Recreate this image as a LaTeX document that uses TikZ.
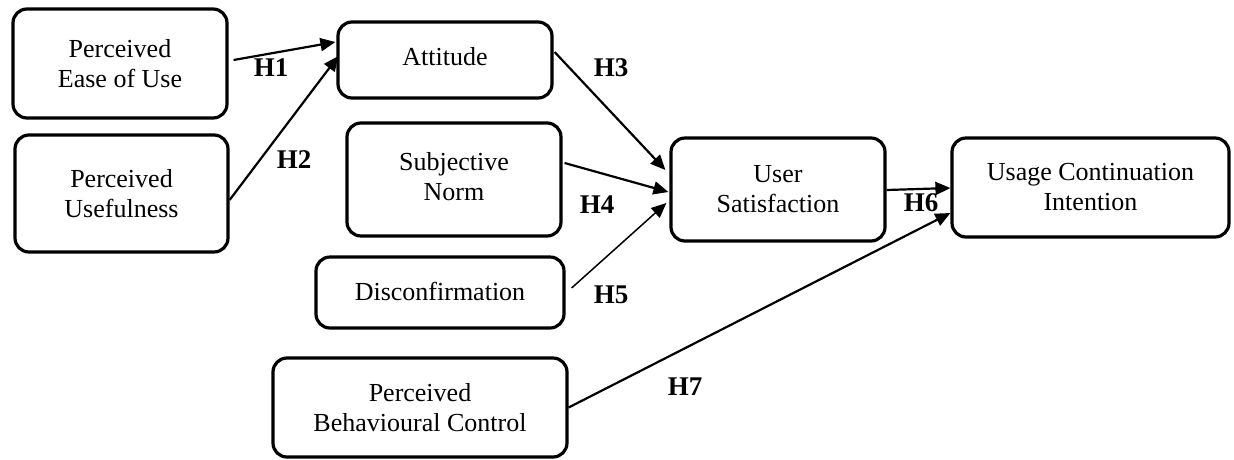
\documentclass[tikz,border=0pt]{standalone}
\usepackage{fontspec}
\setmainfont{Liberation Serif}
\usetikzlibrary{arrows.meta,calc}
\begin{document}
\begin{tikzpicture}[x=1pt,y=-1pt,
  box/.style={draw,line width=3.2pt,rounded corners=14pt,align=center,inner sep=0pt,
    font=\fontsize{26}{30}\selectfont},
  hlab/.style={font=\fontsize{27}{30}\selectfont\bfseries,inner sep=0pt},
  conn/.style={line width=2.2pt,-{Triangle[length=15pt,width=13pt]}},
  thinconn/.style={line width=1.5pt,-{Triangle[length=15pt,width=13pt]}}]
\useasboundingbox (0,0) rectangle (1234,459);
\node[box,minimum width=214pt,minimum height=109pt] (peou) at (120,63.5) {Perceived\\Ease of Use};
\node[box,minimum width=213pt,minimum height=117pt] (pu) at (121.5,193.5) {Perceived\\Usefulness};
\node[box,minimum width=214pt,minimum height=76pt] (att) at (445,60) {\raisebox{7pt}{Attitude}};
\node[box,minimum width=214pt,minimum height=113pt] (sn) at (454,179.5) {\raisebox{8pt}{\begin{tabular}{@{}c@{}}Subjective\\Norm\end{tabular}}};
\node[box,minimum width=248pt,minimum height=71pt] (dis) at (440,292.5) {\raisebox{2pt}{Disconfirmation}};
\node[box,minimum width=294pt,minimum height=99pt] (pbc) at (420,407.5) {Perceived\\Behavioural Control};
\node[box,minimum width=214pt,minimum height=103pt] (us) at (778,189.5) {User\\Satisfaction};
\node[box,minimum width=277pt,minimum height=99pt] (uci) at (1090.5,187.5) {Usage Continuation\\Intention};

\draw[conn] ($(peou.east)+(5,-3.5)$) -- ($(att.west)+(-1,-18)$);
\draw[conn] ($(pu.east)+(0,6.5)$) -- ($(att.west)+(2,-4)$);
\draw[conn] ($(att.east)+(1,-8)$) -- ($(us.west)+(-4,-19.5)$);
\draw[conn] ($(sn.east)+(2,-16.5)$) -- ($(us.west)+(-1,2.5)$);
\draw[thinconn] ($(dis.east)+(6,-4.5)$) -- ($(us.west)+(-3,13.5)$);
\draw[conn] ($(us.east)+(0,0.5)$) -- ($(uci.west)+(0,0.5)$);
\draw[conn] (pbc.east) -- ($(uci.west)+(0,25.5)$);

\node[hlab] (h1) at (271,68) {H1};
\node[hlab] (h2) at (294,160) {H2};
\node[hlab] (h3) at (611,68) {H3};
\node[hlab] (h4) at (597,205) {H4};
\node[hlab] (h5) at (611,295) {H5};
\node[hlab] (h6) at (921,203) {H6};
\node[hlab] (h7) at (685,387) {H7};
\end{tikzpicture}
\end{document}
